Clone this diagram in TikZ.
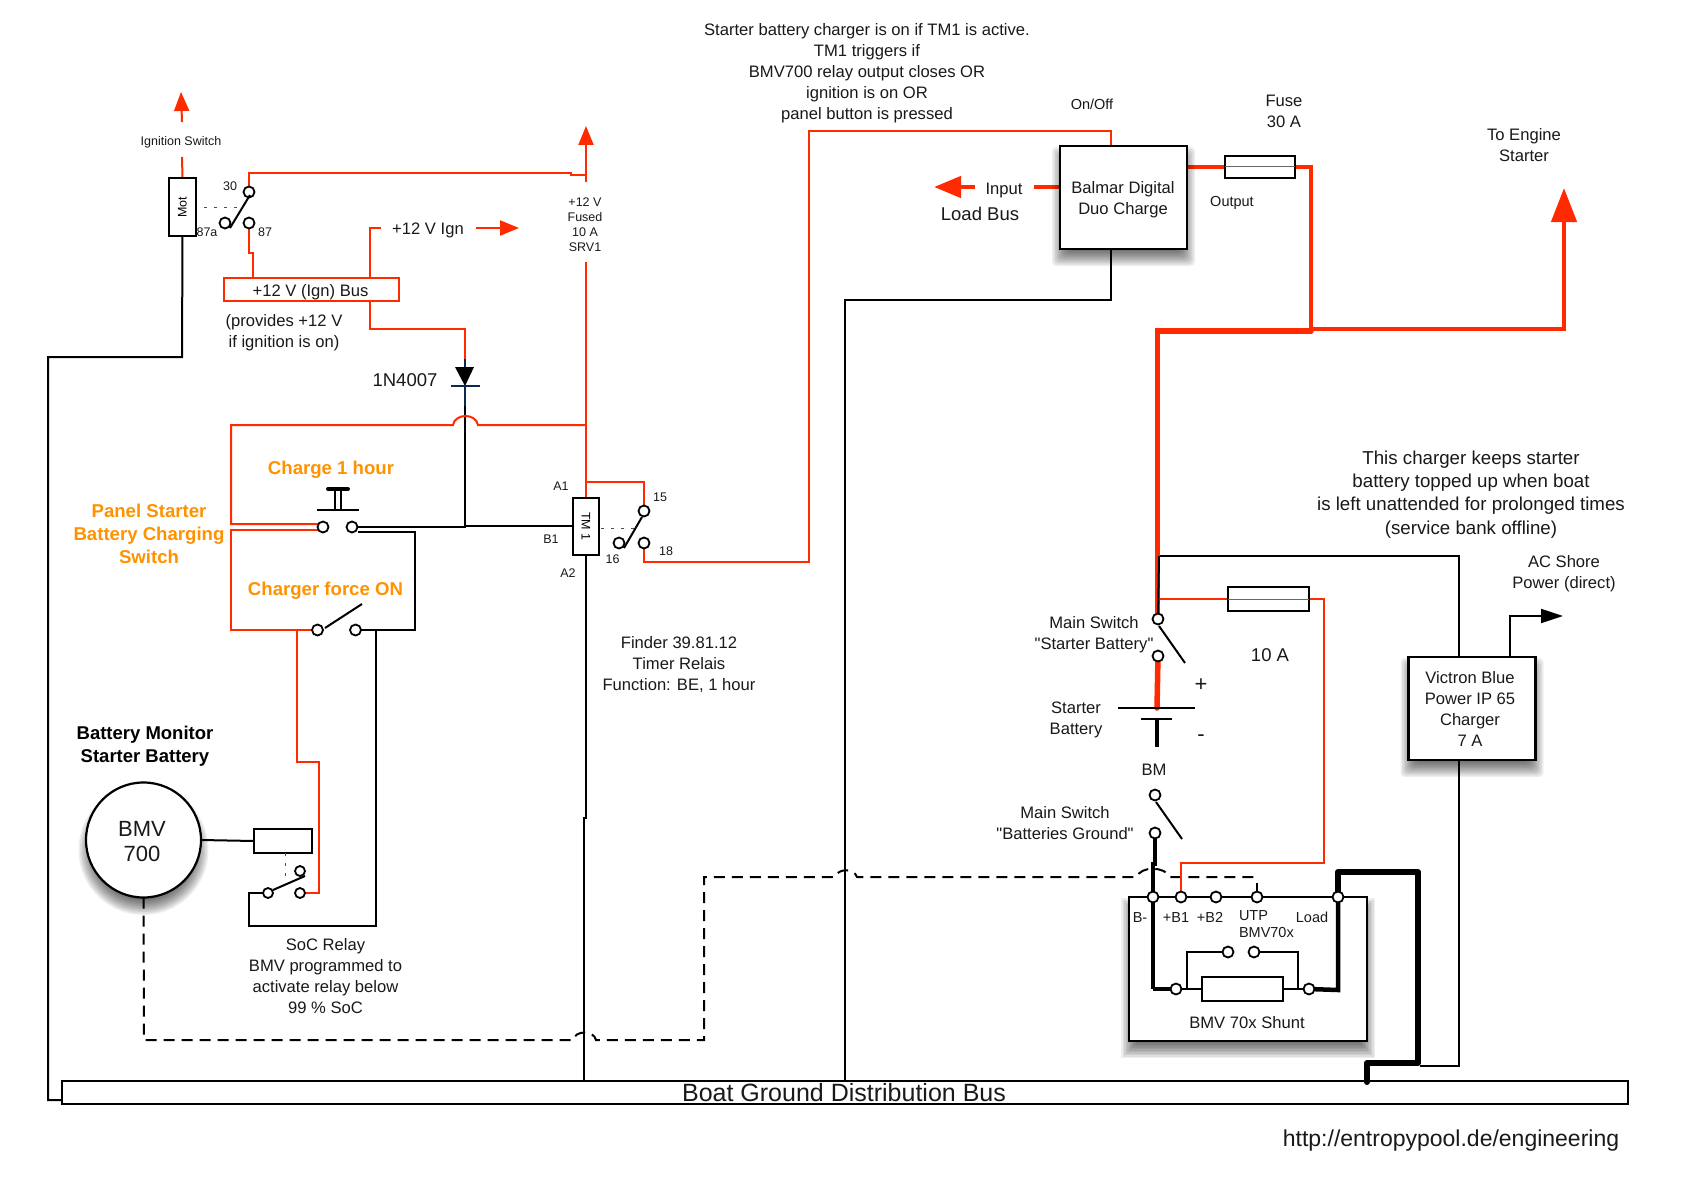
\documentclass[tikz,border=0pt]{standalone}
\usepackage{fontspec}
\setmainfont{Liberation Sans}[Ligatures=TeXOff]
\usetikzlibrary{arrows.meta,calc}
\pgfdeclarelayer{wires}\pgfdeclarelayer{top}
\pgfsetlayers{main,wires,top}
\definecolor{wirered}{HTML}{FF2A00}
\definecolor{panelorange}{HTML}{FF9200}
\definecolor{diodeblue}{HTML}{0A2A50}
\newcommand{\softshadow}[4]{%
  \foreach \d in {8,6.5,5,3.5,2,0.5,-1,-2.5,-4,-5.5,-7}{
    \fill[black,opacity=0.065,rounded corners=4pt] ({#1-\d},{#2+9-\d}) rectangle ({#3+\d},{#4+9+\d});}}
\tikzset{
  every node/.style={inner sep=0pt,outer sep=0pt},
  lbl/.style={align=center,text=black!90,yshift=-0.5pt},
  t12/.style={lbl,font=\fontsize{12.5}{15}\selectfont},
  t14/.style={lbl,font=\fontsize{14.5}{16.5}\selectfont},
  t16/.style={lbl,font=\fontsize{16.6}{21}\selectfont},
  t18/.style={lbl,font=\fontsize{18.5}{23}\selectfont},
  tor/.style={align=center,yshift=-0.5pt,text=panelorange,font=\bfseries\fontsize{18.6}{23}\selectfont},
  tbk/.style={align=center,yshift=-0.5pt,text=black,font=\bfseries\fontsize{18.5}{23}\selectfont},
  term/.style={circle,draw=black,fill=white,line width=1.8pt,minimum size=11pt},
  plain/.style={draw=black,fill=white,line width=2pt},
  shadowbox/.style={draw=black,fill=white,line width=2.2pt},
  bk/.style={draw=black,line width=2pt},
  rd/.style={draw=wirered,line width=2pt},
  rdm/.style={draw=wirered,line width=4.5pt},
  rdb/.style={draw=wirered,line width=5.5pt},
  bkm/.style={draw=black,line width=4.5pt},
  bkb/.style={draw=black,line width=6pt,line join=round,line cap=round},
  dsh/.style={draw=black,line width=2pt,dash pattern=on 11pt off 7pt},
  blade/.style={draw=black,line width=2pt},
  tie/.style={draw=black!70,line width=1pt,dash pattern=on 3pt off 7pt},
  redtip/.style={-{Triangle[length=19pt,width=15pt]},draw=wirered,fill=wirered,line width=2pt},
}
\begin{document}
\begin{tikzpicture}[x=1pt,y=-1pt]
\useasboundingbox (0,0) rectangle (1695,1180);

% ---------- lowest: the sheet and the bus
\fill[white] (0,0) rectangle (1695,1180);
\node[draw=black,line width=2pt,fill=white,minimum width=1566pt,minimum height=23pt,anchor=north west] (bus) at (62,1081) {};

% ---------- shunt housing, under its wires
\begin{pgfonlayer}{wires}
\node[shadowbox,minimum width=238pt,minimum height=144pt] (shunt) at (1248,969) {};
\end{pgfonlayer}

% ---------- components, above the wires
\begin{pgfonlayer}{top}
% shadow of the shunt housing, in strips round its outline
\foreach \d in {8,6.5,5,3.5,2,0.5,-1,-2.5,-4,-5.5,-7}{
  \fill[black,opacity=0.065] ({1129-\d},1042) rectangle ({1367+\d},{1050+\d});}
\foreach \d in {8,6.5,5,3.5,2,0.5}{
  \fill[black,opacity=0.065] ({1129-\d},{906-\d}) rectangle (1128,1042);
  \fill[black,opacity=0.065] (1368,{906-\d}) rectangle ({1367+\d},1042);}
\node[plain,minimum width=27pt,minimum height=58pt] (mot) at (182.5,207) {\fontsize{12.5}{15}\selectfont\rotatebox{90}{Mot}};
\node[term] (c30) at (249,192) {};
\node[term] (c87a) at (225,223) {};
\node[term] (c87) at (249,223) {};
\node[draw=wirered,fill=white,line width=2pt,minimum width=175pt,minimum height=23pt] (ignbus) at (311.5,289.5) {};
\node[plain,minimum width=26pt,minimum height=57pt] (tm) at (586,526.5) {\fontsize{12.5}{15}\selectfont\rotatebox{-90}{TM 1}};
\node[term] (c15) at (644,511) {};
\node[term] (c18) at (644,543) {};
\node[term] (c16) at (619,543) {};
\node[term] (pbl) at (323,527) {};
\node[term] (pbr) at (352,527) {};
\node[term] (fol) at (317.5,630) {};
\node[term] (for) at (355.5,630) {};
\foreach \r in {65,63.5,62,60.5,59,57.5,56,54.5,53,51.5,50}{
  \fill[black,opacity=0.065] (143.5,850) circle (\r pt);}
\node[circle,draw=black,fill=white,line width=2.2pt,minimum size=115pt] (bmv) at (143.5,840) {};
\node[plain,minimum width=58pt,minimum height=24pt] (soc) at (283,841) {};
\node[term,minimum size=10pt] (sr1) at (300,871) {};
\node[term,minimum size=10pt] (sr2) at (300,893) {};
\node[term,minimum size=10pt] (sl) at (268,893) {};
\softshadow{1060}{146}{1187}{249}
\node[shadowbox,minimum width=127pt,minimum height=103pt] (balmar) at (1123.5,197.5) {};
\node[plain,minimum width=70pt,minimum height=22pt] (fuse30) at (1260,167) {};
\node[plain,minimum width=81pt,minimum height=24pt] (fuse10) at (1268.5,599) {};
\node[term] (ms1) at (1158,619) {};
\node[term] (ms2) at (1158,656) {};
\node[term] (mg1) at (1155,795) {};
\node[term] (mg2) at (1155,833) {};
\softshadow{1408.5}{657}{1535.5}{760}
\node[shadowbox,minimum width=127pt,minimum height=103pt] (victron) at (1472,708.5) {};
\node[term] (tbm) at (1153,897) {};
\node[term] (tb1) at (1181,897) {};
\node[term] (tb2) at (1216,897) {};
\node[term] (tutp) at (1257,897) {};
\node[term] (tload) at (1338,897) {};
\node[term] (s1) at (1176,989) {};
\node[term] (s2) at (1309,989) {};
\node[term] (s3) at (1228,952) {};
\node[term] (s4) at (1254,952) {};
\node[plain,minimum width=81pt,minimum height=24pt] (shres) at (1242.5,989) {};
\end{pgfonlayer}

% ---------- free ends
\coordinate (ignfree) at (182,157);
\coordinate (ignshaft) at (182,122);
\coordinate (ignhead) at (181,92);
\coordinate (fusedtop) at (586,182);
\coordinate (fusedhead) at (586,126);
\coordinate (fusedlow) at (586,262);
\coordinate (lignend) at (381,228);
\coordinate (lignarr) at (476,228);
\coordinate (lignhead) at (519,228);
\coordinate (dioA) at (465,367);
\coordinate (dioK) at (465,386);
\coordinate (jhop) at (465,406);
\coordinate (jb) at (465,526);
\coordinate (jr) at (586,425);
\coordinate (jredb) at (586,482);
\coordinate (tmb) at (573,526);
\coordinate (inarr) at (975,187);
\coordinate (inhead) at (934,187);
\coordinate (inbal) at (1034,187);
\coordinate (engine) at (1564,188);
\coordinate (junc) at (1311,331);
\coordinate (blktop) at (1159,556);
\coordinate (acarr) at (1510,657);
\coordinate (achead) at (1563,616);
\coordinate (dashend) at (1257,877);
\coordinate (batp) at (1157,708);
\coordinate (batn) at (1157,719);
\coordinate (batbm) at (1157,747);
\coordinate (platea) at (1118,708);
\coordinate (plateb) at (1195,708);
\coordinate (platec) at (1141,719);
\coordinate (plated) at (1172,719);
\coordinate (pbla) at (318,524);
\coordinate (pblb) at (318,530);
\coordinate (busl) at (62,1100);
\coordinate (balbot) at (1111,249);
\coordinate (baltop) at (1111,146);
\coordinate (baloutl) at (1186,167);
\coordinate (balinl) at (1060,187);
\coordinate (pbrb) at (358,532);

% ---------- wires
\begin{pgfonlayer}{wires}
% black thin
\draw[bk] (mot.south) -- (182,357) -- (48,357) -- (48,1100) -- (busl);
\draw[bk] (pbr) -- (465,527) -- (jb) -- (tmb);
\draw[bk] (jhop) -- (jb);
\draw[bk] (pbrb) -- (415,532) -- (415,630) -- (for);
\draw[bk] (for) -- (376,630) -- (376,926) -- (249,926) -- (249,893) -- (sl);
\draw[bk] (tm.south) -- (586,818) -- (584,818) -- (584,1080);
\draw[bk] (bmv.east) -- (soc.west);
\draw[bk] (balbot) -- (1111,300) -- (845,300) -- (845,1080);
\draw[bk] (blktop) -- (1459,556) -- (1459,1066) -- (1420,1066);
\draw[bk,-{Triangle[length=22pt,width=14pt]}] (acarr) -- (1510,616) -- (achead);
\draw[bk] (s1) -- (shres);
\draw[bk] (s2) -- (shres);
\draw[bk] (1187,989) -- (1187,952) -- (s3);
\draw[bk] (1298,989) -- (1298,952) -- (s4);
\draw[bk] (tutp) -- (1257,883);
% dashed
\draw[dsh] (bmv.south) -- (144,1040) -- (573,1040) .. controls (575,1030) and (594,1030) .. (596,1040) -- (704,1040) -- (704,877) -- (835,877) .. controls (838,868) and (854,868) .. (857,877) -- (1137,877) .. controls (1140,866) and (1165,866) .. (1170,877) -- (dashend);
% red thin
\draw[rd] (ignfree) -- (mot.north);
\draw[redtip] (ignshaft) -- (ignhead);
\draw[rd] (c30) -- (249,173) -- (571,173) -- (571,175) -- (586,175);
\draw[redtip] (fusedtop) -- (fusedhead);
\draw[rd] (c87) -- (249,253) -- (253,253) -- (253,278);
\draw[rd] (370,278) -- (370,228) -- (lignend);
\draw[redtip] (lignarr) -- (lignhead);
\draw[rd] (370,301) -- (370,329) -- (465,329) -- (465,359);
\draw[rd] (fusedlow) -- (tm.north);
\draw[rd] (pbla) -- (231,524) -- (231,425) -- (453,425) .. controls (455,413) and (476,413) .. (478,425) -- (jr);
\draw[rd] (pblb) -- (231,530) -- (231,630) -- (fol);
\draw[rd] (jredb) -- (644,482) -- (c15);
\draw[rd] (c18) -- (644,562) -- (809,562) -- (809,131) -- (1111,131) -- (baltop);
\draw[rd] (297,630) -- (297,762) -- (319,762) -- (319,893) -- (sr2);
\draw[rd] (1157,599) -- (fuse10.west);
\draw[rd] (fuse10.east) -- (1324,599) -- (1324,863) -- (1181,863) -- (tb1);
% red thick
\draw[rdm] (balinl) -- (inbal);
\draw[rdm,-{Triangle[length=27pt,width=21pt]}] (inarr) -- (inhead);
\draw[rdm] (baloutl) -- (fuse30.west);
\draw[rdm] (fuse30.east) -- (1311,167) -- (junc);
\draw[rdb,line cap=round] (1157.5,613) -- (1157.5,331) -- (junc);
\draw[draw=wirered,line width=4.5pt,-{Triangle[length=34pt,width=25pt]}] (1311,329) -- (1564,329) -- (engine);
\draw[rdb,line cap=round] (ms2) -- (batp);
\draw[bk] (blktop) -- (ms1);
% black thick
\draw[bkm] (batn) -- (batbm);
\draw[bkm] (mg2) -- (1155,864) -- (1153,864) -- (tbm);
\draw[draw=black,line width=3.2pt] (tbm) -- (1153,989);
\draw[bkm] (1153,989) -- (s1);
\draw[bkm] (tload) -- (1338,990) -- (s2);
\draw[bkb] (tload) -- (1338,872) -- (1418,872) -- (1418,1063) -- (1367,1063) -- (1367,1082);
\end{pgfonlayer}

\begin{pgfonlayer}{top}
% ---------- switch blades, plates and diode
\draw[blade] (250,195) -- (230,228);
\draw[tie] (204,207) -- (240,207);
\draw[blade] (642,517) -- (624,548);
\draw[tie] (601,528) -- (635,528);
\draw[blade] (325,628) -- (362,604);
\draw[blade] (273,890) -- (305,876);
\draw[tie] (285,853) -- (285,877);
\draw[blade] (1159,626) -- (1185,663);
\draw[blade] (1156,802) -- (1182,839);
\draw[draw=black,line width=2pt] (platea) -- (plateb);
\draw[draw=black,line width=2pt] (platec) -- (plated);
\draw[draw=black!60,line width=1pt] (fuse30.west) -- (fuse30.east);
\draw[draw=black!60,line width=1pt] (fuse10.west) -- (fuse10.east);
% push button
\draw[line width=4pt,line cap=round] (328,489) -- (348,489);
\draw[line width=2pt] (335,489) -- (335,510) (341,489) -- (341,510);
\draw[line width=2pt] (317,510) -- (359,510);
% diode
\draw[diodeblue,line width=2pt] (465,359) -- (dioA);
\fill[black] (455,367) -- (474,367) -- (dioK) -- cycle;
\draw[diodeblue,line width=2pt] (451,386) -- (480,386);
\draw[diodeblue,line width=2pt] (dioK) -- (jhop);

% ---------- labels
\node[t12] (tign) at (181,142) {Ignition Switch};
\node[t12] (t30) at (230,186) {30};
\node[t12] (t87a) at (207,232) {87a};
\node[t12] (t87) at (265,232) {87};
\node[t16] (tbus) at (310.5,292) {+12 V (Ign) Bus};
\node[t16] (tignv) at (428,229.5) {+12 V Ign};
\node[t16] (tprov) at (284,332.5) {(provides +12 V\\if ignition is on)};
\node[t18] (tdiode) at (405,380) {1N4007};
\node[t12] (tfused) at (585,224) {+12 V\\Fused\\10 A\\SRV1};
\node[tor] (tch1) at (331,469) {Charge 1 hour};
\node[tor] (tpanel) at (149,533) {Panel Starter\\Battery Charging\\Switch};
\node[tor] (tforce) at (325.5,590) {Charger force ON};
\node[t12] (ta1) at (561,486) {A1};
\node[t12] (tb1l) at (551,539) {B1};
\node[t12] (ta2) at (568,573) {A2};
\node[t12] (t15) at (660,497) {15};
\node[t12] (t16) at (612.6,559) {16};
\node[t12] (t18) at (666,551) {18};
\node[t16] (tfinder) at (679,664) {Finder 39.81.12\\Timer Relais\\Function: BE, 1 hour};
\node[tbk] (tbattm) at (145,746) {Battery Monitor\\Starter Battery};
\node[lbl,font=\fontsize{22}{25}\selectfont] (tbmv) at (142,841.5) {BMV\\700};
\node[t16] (tsoc) at (325.5,975.5) {SoC Relay\\BMV programmed to\\activate relay below\\99 \% SoC};
\node[t16] (ttop) at (867,73) {Starter battery charger is on if TM1 is active.\\TM1 triggers if\\BMV700 relay output closes OR\\ignition is on OR\\panel button is pressed};
\node[t14] (tonoff) at (1092,104) {On/Off};
\node[t16] (tinput) at (1004,190) {Input};
\node[t18] (tload2) at (980,213) {Load Bus};
\node[t16] (tbal) at (1123,199.5) {Balmar Digital\\Duo Charge};
\node[t16] (tfuse) at (1284,110.5) {Fuse\\30 A};
\node[t14] (toutput) at (1232,202) {Output};
\node[t16] (tengine) at (1524,144.5) {To Engine\\Starter};
\node[lbl,font=\fontsize{18.7}{23.3}\selectfont] (tcharger) at (1471,494) {This charger keeps starter\\battery topped up when boat\\is left unattended for prolonged times\\(service bank offline)};
\node[t16] (tshore) at (1564,573) {AC Shore\\Power (direct)};
\node[t16] (tvictron) at (1470,708) {Victron Blue\\Power IP 65\\Charger\\7 A};
\node[t16] (tms) at (1094,634.5) {Main Switch\\"Starter Battery"};
\node[t16] (tsb) at (1076,719.5) {Starter\\Battery};
\node[t18] (t10a) at (1270,655) {10 A};
\node[lbl,font=\fontsize{22}{25}\selectfont] (tplus) at (1201,685) {+};
\node[lbl,font=\fontsize{22}{25}\selectfont] (tminus) at (1201,738) {-};
\node[t16] (tbm) at (1154,769) {BM};
\node[t16] (tmg) at (1065,822.5) {Main Switch\\"Batteries Ground"};
\node[t14] (tbm1) at (1140,917) {B-};
\node[t14] (tp1) at (1176,917) {+B1};
\node[t14] (tp2) at (1210,917) {+B2};
\node[align=left,anchor=north west,text=black!90,font=\fontsize{14.5}{17}\selectfont] (tutpl) at (1239,910.5) {UTP\\BMV70x};
\node[t14] (tloadl) at (1312,917) {Load};
\node[t16] (tshunt) at (1247,1022) {BMV 70x Shunt};
\node[lbl,font=\fontsize{25}{28}\selectfont] (tbusl) at (844,1092) {Boat Ground Distribution Bus};
\node[lbl,font=\fontsize{23}{26}\selectfont] (turl) at (1451,1140) {http://entropypool.de/engineering};
\end{pgfonlayer}
\end{tikzpicture}
\end{document}
